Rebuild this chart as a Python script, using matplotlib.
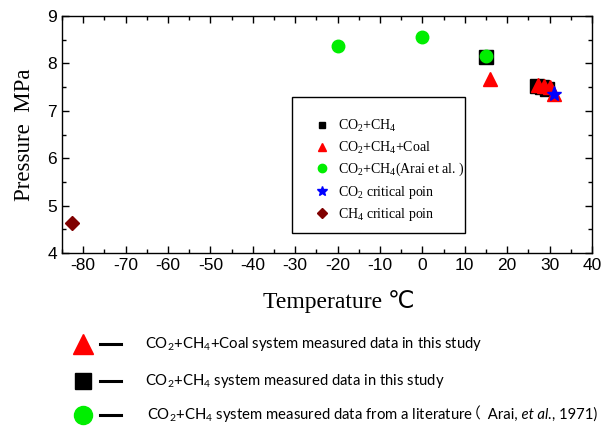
import matplotlib
matplotlib.use("Agg")
import matplotlib.pyplot as plt
from matplotlib.lines import Line2D
from matplotlib.patches import Rectangle
from matplotlib.ticker import MultipleLocator

plt.rcParams["mathtext.fontset"] = "custom"
plt.rcParams["mathtext.rm"] = "Liberation Serif"
plt.rcParams["mathtext.sf"] = "Lato"
plt.rcParams["axes.unicode_minus"] = False

# values
arai_T = [-20, 0, 15]
arai_P = [8.36, 8.56, 8.16]
mix_T = [15, 27, 28.3, 29.5]
mix_P = [8.13, 7.53, 7.50, 7.46]
coal_T = [16, 27.3, 28.7, 30, 31]
coal_P = [7.67, 7.55, 7.52, 7.50, 7.36]
co2_crit_T = [31]
co2_crit_P = [7.36]
ch4_crit_T = [-82.6]
ch4_crit_P = [4.63]

xticks = list(range(-80, 41, 10))
yticks = [4, 5, 6, 7, 8, 9]

W, H = 603, 429
fig = plt.figure(figsize=(W / 100, H / 100), dpi=100)
ax = fig.add_axes([62 / W, 1 - 253 / H, 530 / W, 237 / H])

ax.plot(mix_T, mix_P, "s", color="black", ms=9.5, zorder=3)
ax.plot(coal_T, coal_P, "^", color="red", ms=10, zorder=4)
ax.plot(arai_T, arai_P, "o", color="#00ee00", ms=9, zorder=5)
ax.plot(co2_crit_T, co2_crit_P, "*", color="blue", ms=11, zorder=6)
ax.plot(ch4_crit_T, ch4_crit_P, "D", color="#800000", ms=7, zorder=6)

ax.set_xlim(-85, 40)
ax.set_ylim(4, 9)
ax.set_xticks(xticks)
ax.set_yticks(yticks)
ax.xaxis.set_minor_locator(MultipleLocator(5))
ax.yaxis.set_minor_locator(MultipleLocator(0.5))
ax.tick_params(which="both", direction="in", top=True, right=True,
               labeltop=False, labelright=False, width=1)
ax.tick_params(which="major", length=5, labelsize=12.5)
ax.tick_params(which="minor", length=3)
for lab in ax.get_xticklabels() + ax.get_yticklabels():
    lab.set_family("Liberation Sans")
for s in ax.spines.values():
    s.set_linewidth(1.0)

ax.set_xlabel("Temperature ℃", family=["Liberation Serif", "DejaVu Sans"],
              fontsize=17)
ax.xaxis.set_label_coords((339 - 62) / 530, -0.157)
ax.set_ylabel("Pressure  MPa", family="Liberation Serif", fontsize=16.5, labelpad=9)

# inner legend: frame drawn as a box, entries placed inside it
def px_to_axes(x, y):
    return (x - 62) / 530, (253 - y) / 237

bx0, by0 = px_to_axes(292, 233)
bx1, by1 = px_to_axes(465, 97)
ax.add_patch(Rectangle((bx0, by0), bx1 - bx0, by1 - by0, transform=ax.transAxes,
                       facecolor="white", edgecolor="black", lw=1.0, zorder=7))

handles = [
    Line2D([], [], ls="", marker="s", color="black", ms=5),
    Line2D([], [], ls="", marker="^", color="red", ms=6),
    Line2D([], [], ls="", marker="o", color="#00ee00", ms=6),
    Line2D([], [], ls="", marker="*", color="blue", ms=7),
    Line2D([], [], ls="", marker="D", color="#800000", ms=5),
]
labels = [r"CO$_2$+CH$_4$", r"CO$_2$+CH$_4$+Coal", r"CO$_2$+CH$_4$(Arai et al. )",
          r"CO$_2$ critical poin", r"CH$_4$ critical poin"]
leg = ax.legend(handles, labels, loc="upper left",
                bbox_to_anchor=px_to_axes(308, 118),
                borderaxespad=0, prop={"family": "Liberation Serif", "size": 10},
                frameon=False, borderpad=0, handlelength=2.0, handletextpad=0.15,
                labelspacing=0.37)
leg.set_zorder(8)

# lower explanatory key
rows = [
    (344, "^", "red", 15, [r"CO$_\mathsf{2}$+CH$_\mathsf{4}$+Coal system measured data in this study"], 145),
    (381, "s", "black", 12, [r"CO$_\mathsf{2}$+CH$_\mathsf{4}$ system measured data in this study"], 145),
    (415, "o", "#00ee00", 13, [r"CO$_\mathsf{2}$+CH$_\mathsf{4}$ system measured data from a literature",
                              "（", " Arai,", " et al.", ", 1971)"], 147),
]
fig.canvas.draw()
renderer = fig.canvas.get_renderer()
for y, mk, col, ms, parts, x0 in rows:
    yf = 1 - y / H
    fig.add_artist(Line2D([83 / W], [yf], ls="", marker=mk, color=col, ms=ms,
                          transform=fig.transFigure))
    fig.add_artist(Line2D([100 / W, 121 / W], [yf, yf], color="black", lw=2.2,
                          transform=fig.transFigure))
    x = x0
    for p in parts:
        style = "italic" if "et al." in p else "normal"
        if p == "（":
            x -= 8
        t = fig.text(x / W, yf, p, family=["Lato", "Noto Sans CJK SC"], style=style,
                     fontsize=10.7, va="center", ha="left")
        bb = t.get_window_extent(renderer)
        x += bb.width
        if p == "（":
            x += 4

fig.savefig("out.png", dpi=100)
